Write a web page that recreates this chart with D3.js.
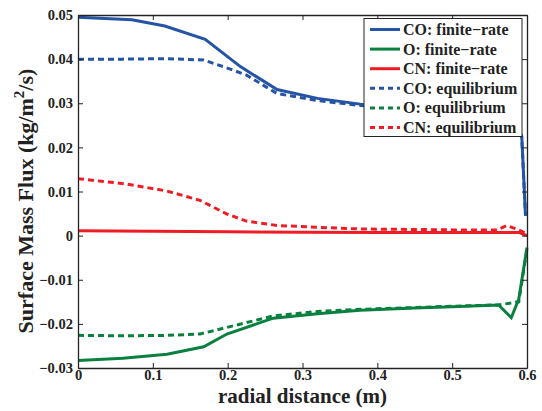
<!DOCTYPE html>
<html><head><meta charset="utf-8">
<script src="https://cdn.jsdelivr.net/npm/d3@7"></script>
<style>body{margin:0;background:#fff}text{font-family:"Liberation Serif","Times New Roman",serif;font-weight:bold;fill:#222}</style>
</head><body><svg id="c" width="542" height="411"></svg>
<script>
const xTicks=[0,0.1,0.2,0.3,0.4,0.5,0.6];
const yTicks=[-0.03,-0.02,-0.01,0,0.01,0.02,0.03,0.04,0.05];
const coFiniteX=[0,0.072,0.116,0.170,0.217,0.266,0.32,0.377,0.45,0.5,0.55,0.585,0.593,0.598];
const coFiniteY=[0.0495,0.0489,0.0475,0.0445,0.0383,0.0331,0.0311,0.0298,0.0288,0.0282,0.0276,0.0262,0.0225,0.0045];
const coEqX=[0,0.06,0.119,0.168,0.194,0.225,0.266,0.32,0.377,0.45,0.5,0.55,0.585,0.593,0.598];
const coEqY=[0.0400,0.0400,0.0401,0.0398,0.0383,0.0364,0.0322,0.0306,0.0295,0.0286,0.0280,0.0274,0.0260,0.0222,0.0045];
const oFiniteX=[0,0.06,0.119,0.168,0.199,0.261,0.32,0.377,0.45,0.5,0.562,0.579,0.589,0.6];
const oFiniteY=[-0.0283,-0.0278,-0.0269,-0.0252,-0.0223,-0.0187,-0.0177,-0.0169,-0.0164,-0.0161,-0.0157,-0.0186,-0.0144,-0.0027];
const oEqX=[0,0.06,0.119,0.163,0.199,0.261,0.32,0.377,0.45,0.5,0.562,0.589,0.6];
const oEqY=[-0.0226,-0.0227,-0.0226,-0.0223,-0.0208,-0.0182,-0.0172,-0.0167,-0.0163,-0.0160,-0.0157,-0.0150,-0.0030];
const cnFiniteX=[0,0.1,0.2,0.3,0.4,0.5,0.59,0.6];
const cnFiniteY=[0.0011,0.0010,0.0009,0.00075,0.00072,0.0007,0.0007,0.0];
const cnEqX=[0,0.065,0.119,0.163,0.199,0.225,0.266,0.32,0.377,0.45,0.5,0.56,0.573,0.586,0.6];
const cnEqY=[0.0129,0.0117,0.0101,0.0080,0.0049,0.0033,0.0023,0.0019,0.0015,0.0014,0.0013,0.0013,0.0023,0.0015,0.0004];
const seriesNames=["CO: finite\u2212rate","O: finite\u2212rate","CN: finite\u2212rate","CO: equilibrium","O: equilibrium","CN: equilibrium"];
const blue="#2554a4",green="#0a8040",red="#ee1d25";
const series=[
 {name:seriesNames[0],x:coFiniteX,y:coFiniteY,c:blue,dash:null},
 {name:seriesNames[1],x:oFiniteX,y:oFiniteY,c:green,dash:null},
 {name:seriesNames[2],x:cnFiniteX,y:cnFiniteY,c:red,dash:null},
 {name:seriesNames[3],x:coEqX,y:coEqY,c:blue,dash:"6,4"},
 {name:seriesNames[4],x:oEqX,y:oEqY,c:green,dash:"6,4"},
 {name:seriesNames[5],x:cnEqX,y:cnEqY,c:red,dash:"6,4"}];
const L=78,R=527,T=15,B=368;
const svg=d3.select("#c");
const x=d3.scaleLinear().domain([0,0.6]).range([L,R]);
const y=d3.scaleLinear().domain([-0.03,0.05]).range([B,T]);
const fmt=d=>d===0?"0":d3.format(".2~f")(d).replace("-","\u2212");
svg.append("clipPath").attr("id","clip").append("rect").attr("x",L).attr("y",T-2).attr("width",R-L+2).attr("height",B-T+2);
const g=svg.append("g").attr("clip-path","url(#clip)");
const line=d3.line().x(d=>x(d[0])).y(d=>y(d[1]));
[3,4,5,0,1,2].forEach(i=>{const s=series[i];
 g.append("path").datum(s.x.map((v,j)=>[v,s.y[j]])).attr("d",line).attr("fill","none")
  .attr("stroke",s.c).attr("stroke-width",3).attr("stroke-dasharray",s.dash).attr("stroke-linejoin","miter");
});
const ax=svg.append("g").attr("transform",`translate(0,${B})`).call(d3.axisBottom(x).tickValues(xTicks).tickFormat(fmt).tickSizeInner(-5).tickSizeOuter(0));
const ay=svg.append("g").attr("transform",`translate(${L},0)`).call(d3.axisLeft(y).tickValues(yTicks).tickFormat(fmt).tickSizeInner(-5).tickSizeOuter(0).tickPadding(5));
const axT=svg.append("g").attr("transform",`translate(0,${T})`).call(d3.axisTop(x).tickValues(xTicks).tickFormat("").tickSizeInner(-5).tickSizeOuter(0));
const ayR=svg.append("g").attr("transform",`translate(${R},0)`).call(d3.axisRight(y).tickValues(yTicks).tickFormat("").tickSizeInner(-5).tickSizeOuter(0));
[ax,ay,axT,ayR].forEach(a=>{a.selectAll("path").attr("stroke","#222").attr("stroke-width",1.3);a.selectAll("line").attr("stroke","#222");a.selectAll("text").style("font-size","14.5px").attr("fill","#222");});
ax.selectAll("text").attr("y",12).attr("dy",0);
svg.append("text").attr("x",(L+R)/2).attr("y",403).attr("text-anchor","middle").style("font-size","21px").text("radial distance (m)");
const yl=svg.append("text").attr("transform","translate(33,201) rotate(-90)").attr("text-anchor","middle").style("font-size","22px");
yl.append("tspan").text("Surface Mass Flux (kg/m");
yl.append("tspan").attr("dy",-9).style("font-size","15px").text("2");
yl.append("tspan").attr("dy",9).text("/s)");
const lg=svg.append("g");
lg.append("rect").attr("x",364).attr("y",18.5).attr("width",158).attr("height",118).attr("fill","#fff").attr("stroke","#222").attr("stroke-width",1);
series.forEach((s,i)=>{const yy=29.5+i*19.6;
 lg.append("line").attr("x1",370).attr("x2",400).attr("y1",yy).attr("y2",yy).attr("stroke",s.c).attr("stroke-width",3).attr("stroke-dasharray",s.dash?"5,4":null);
 lg.append("text").attr("x",403).attr("y",yy+5.5).style("font-size","16px").text(s.name);
});
</script></body></html>
